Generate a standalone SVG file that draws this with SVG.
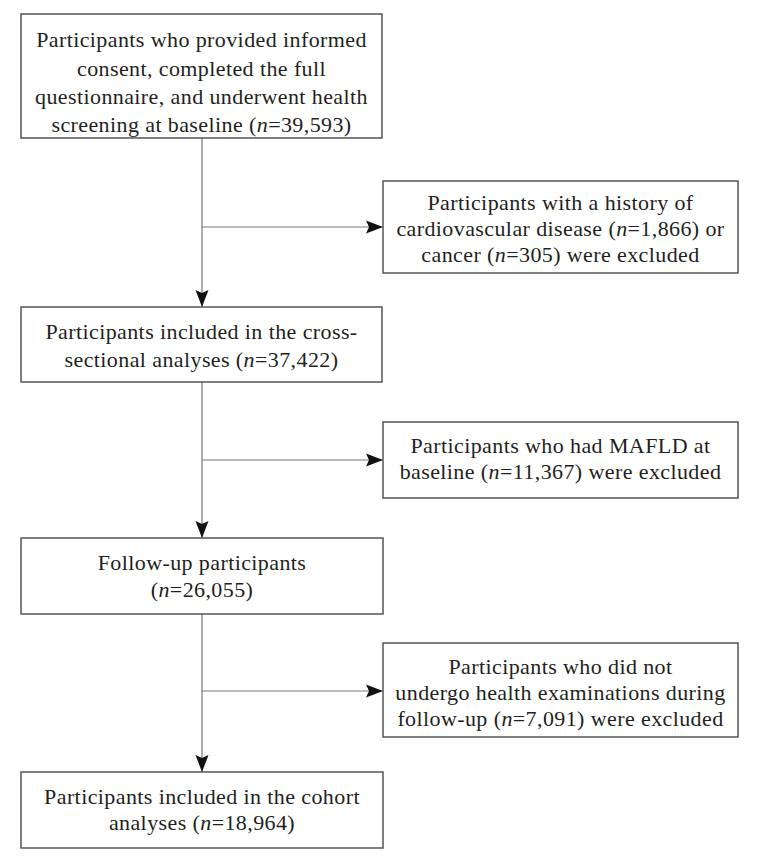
<svg xmlns="http://www.w3.org/2000/svg" width="758" height="865" viewBox="0 0 758 865">
<defs>
<style>
.box{fill:#fff;stroke:#555;stroke-width:1.5}
.t{font-family:"Liberation Serif","Times New Roman",serif;font-size:22px;letter-spacing:0.4px;fill:#231f20;text-anchor:middle}
.i{font-style:italic}
.c{stroke:#777;stroke-width:1.2;fill:none}
</style>
<marker id="ah" markerUnits="userSpaceOnUse" markerWidth="17" markerHeight="14" refX="17" refY="7" orient="auto">
<path d="M0,0.5 L17,7 L0,13.5 L3,7 Z" fill="#111"/>
</marker>
</defs>
<rect width="758" height="865" fill="#fff"/>
<g id="connectors">
<line class="c" x1="202" y1="138" x2="202" y2="307" marker-end="url(#ah)"/>
<line class="c" x1="202" y1="227" x2="383" y2="227" marker-end="url(#ah)"/>
<line class="c" x1="202" y1="382" x2="202" y2="538" marker-end="url(#ah)"/>
<line class="c" x1="202" y1="460" x2="383" y2="460" marker-end="url(#ah)"/>
<line class="c" x1="202" y1="614" x2="202" y2="772" marker-end="url(#ah)"/>
<line class="c" x1="202" y1="691" x2="383" y2="691" marker-end="url(#ah)"/>
</g>
<g id="n1">
<rect class="box" x="21" y="14" width="361" height="124"/>
<text class="t" x="201.5" y="47">Participants who provided informed</text>
<text class="t" x="201.5" y="76">consent, completed the full</text>
<text class="t" x="201.5" y="104">questionnaire, and underwent health</text>
<text class="t" x="201.5" y="132">screening at baseline (<tspan class="i">n</tspan>=39,593)</text>
</g>
<g id="e1">
<rect class="box" x="383" y="181" width="355" height="92"/>
<text class="t" x="560.5" y="210">Participants with a history of</text>
<text class="t" x="560.5" y="236">cardiovascular disease (<tspan class="i">n</tspan>=1,866) or</text>
<text class="t" x="560.5" y="262">cancer (<tspan class="i">n</tspan>=305) were excluded</text>
</g>
<g id="n2">
<rect class="box" x="21" y="307" width="361" height="75"/>
<text class="t" x="201.5" y="339">Participants included in the cross-</text>
<text class="t" x="201.5" y="367">sectional analyses (<tspan class="i">n</tspan>=37,422)</text>
</g>
<g id="e2">
<rect class="box" x="383" y="422" width="355" height="76"/>
<text class="t" x="560.5" y="453">Participants who had MAFLD at</text>
<text class="t" x="560.5" y="479">baseline (<tspan class="i">n</tspan>=11,367) were excluded</text>
</g>
<g id="n3">
<rect class="box" x="21" y="538" width="362" height="76"/>
<text class="t" x="202" y="570">Follow-up participants</text>
<text class="t" x="202" y="597">(<tspan class="i">n</tspan>=26,055)</text>
</g>
<g id="e3">
<rect class="box" x="383" y="643" width="355" height="94"/>
<text class="t" x="560.5" y="674">Participants who did not</text>
<text class="t" x="560.5" y="700">undergo health examinations during</text>
<text class="t" x="560.5" y="726">follow-up (<tspan class="i">n</tspan>=7,091) were excluded</text>
</g>
<g id="n4">
<rect class="box" x="21" y="772" width="362" height="76"/>
<text class="t" x="202" y="804">Participants included in the cohort</text>
<text class="t" x="202" y="830">analyses (<tspan class="i">n</tspan>=18,964)</text>
</g>
</svg>
